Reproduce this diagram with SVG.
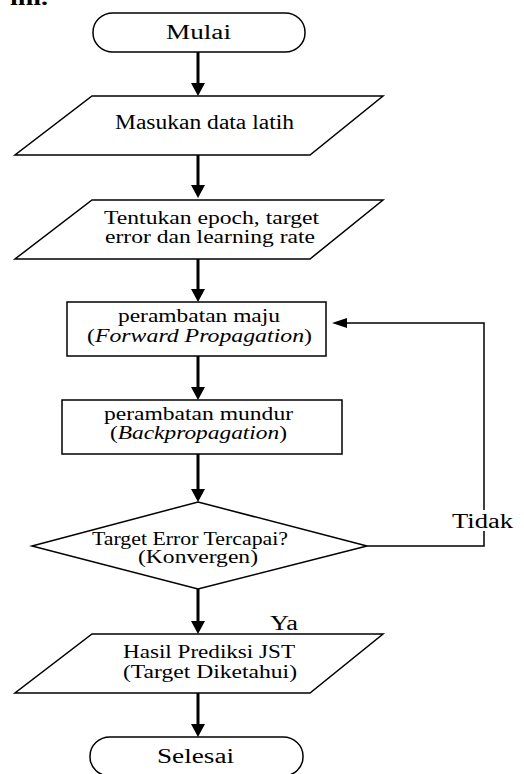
<svg xmlns="http://www.w3.org/2000/svg" width="524" height="774" viewBox="0 0 524 774">
<style>
  .shape { fill: #ffffff; stroke: #000000; stroke-width: 1.5; }
  .t { font-family: "Liberation Serif", "Times New Roman", serif; font-size: 20px; fill: #000000; }
  .t2 { font-family: "Liberation Serif", "Times New Roman", serif; font-size: 18px; fill: #000000; }
  .it { font-style: italic; }
  .main { stroke: #000000; stroke-width: 3; fill: none; }
  .thin { stroke: #000000; stroke-width: 1.5; fill: none; }
</style>
<defs>
  <marker id="ahBig" markerUnits="userSpaceOnUse" markerWidth="13" markerHeight="14" refX="7" refY="7" orient="auto">
    <path d="M0,0 L13,7 L0,14 z" fill="#000000"/>
  </marker>
  <marker id="ahSmall" markerUnits="userSpaceOnUse" markerWidth="15" markerHeight="10" refX="9" refY="5" orient="auto">
    <path d="M0,0 L15,5 L0,10 z" fill="#000000"/>
  </marker>
</defs>
<rect width="524" height="774" fill="#ffffff"/>

<text class="t" x="10" y="5" font-weight="bold" textLength="38" lengthAdjust="spacingAndGlyphs">ini.</text>

<g id="connectors">
  <line class="main" x1="198" y1="52" x2="198" y2="90" marker-end="url(#ahBig)"/>
  <line class="main" x1="198" y1="155" x2="198" y2="192" marker-end="url(#ahBig)"/>
  <line class="main" x1="198" y1="259" x2="198" y2="296" marker-end="url(#ahBig)"/>
  <line class="main" x1="198" y1="356" x2="198" y2="394" marker-end="url(#ahBig)"/>
  <line class="main" x1="198" y1="454" x2="198" y2="496" marker-end="url(#ahBig)"/>
  <line class="main" x1="198" y1="589" x2="198" y2="628" marker-end="url(#ahBig)"/>
  <line class="main" x1="198" y1="693" x2="198" y2="731" marker-end="url(#ahBig)"/>
  <path class="thin" d="M367,546 H484 V323 H338" marker-end="url(#ahSmall)"/>
  <rect x="450" y="510" width="66" height="21" fill="#ffffff"/>
  <text class="t" x="452" y="528" textLength="61" lengthAdjust="spacingAndGlyphs">Tidak</text>
  <text class="t" x="270" y="630" textLength="28" lengthAdjust="spacingAndGlyphs">Ya</text>
</g>

<g id="mulai">
  <rect class="shape" x="93" y="13" width="212" height="39" rx="20" ry="19"/>
  <text class="t" x="166" y="39" textLength="65" lengthAdjust="spacingAndGlyphs">Mulai</text>
</g>

<g id="masukan">
  <polygon class="shape" points="92,96 383,96 310,155 15,155"/>
  <text class="t" x="115" y="129" textLength="179" lengthAdjust="spacingAndGlyphs">Masukan data latih</text>
</g>

<g id="tentukan">
  <polygon class="shape" points="92,200 383,200 310,259 15,259"/>
  <text class="t2" x="104" y="224" textLength="215" lengthAdjust="spacingAndGlyphs">Tentukan epoch, target</text>
  <text class="t2" x="105" y="243" textLength="210" lengthAdjust="spacingAndGlyphs">error dan learning rate</text>
</g>

<g id="maju">
  <rect class="shape" x="67" y="302" width="259" height="54"/>
  <text class="t2" x="118" y="322" textLength="162" lengthAdjust="spacingAndGlyphs">perambatan maju</text>
  <text class="t2" x="87" y="342" textLength="225" lengthAdjust="spacingAndGlyphs">(<tspan class="it">Forward Propagation</tspan>)</text>
</g>

<g id="mundur">
  <rect class="shape" x="62" y="400" width="280" height="54"/>
  <text class="t2" x="104" y="420" textLength="189" lengthAdjust="spacingAndGlyphs">perambatan mundur</text>
  <text class="t2" x="110" y="439" textLength="177" lengthAdjust="spacingAndGlyphs">(<tspan class="it">Backpropagation</tspan>)</text>
</g>

<g id="keputusan">
  <polygon class="shape" points="198,502 367,546 198,589 32,546"/>
  <text class="t2" x="92" y="545" textLength="196" lengthAdjust="spacingAndGlyphs">Target Error Tercapai?</text>
  <text class="t2" x="138" y="563" textLength="120" lengthAdjust="spacingAndGlyphs">(Konvergen)</text>
</g>

<g id="hasil">
  <polygon class="shape" points="92,634 383,634 310,693 15,693"/>
  <text class="t2" x="123" y="658" textLength="172" lengthAdjust="spacingAndGlyphs">Hasil Prediksi JST</text>
  <text class="t2" x="123" y="678" textLength="174" lengthAdjust="spacingAndGlyphs">(Target Diketahui)</text>
</g>

<g id="selesai">
  <rect class="shape" x="90" y="737" width="213" height="39" rx="20" ry="19"/>
  <text class="t" x="157" y="763" textLength="77" lengthAdjust="spacingAndGlyphs">Selesai</text>
</g>
</svg>
